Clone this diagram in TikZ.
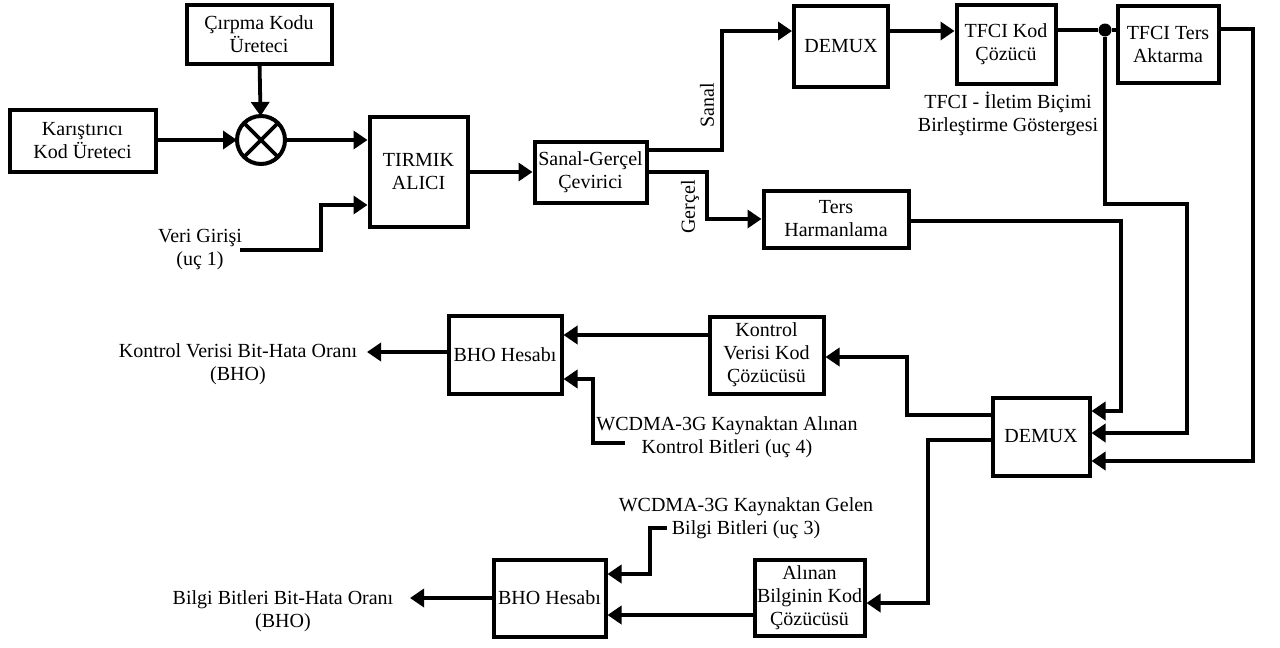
\documentclass[tikz,border=0pt]{standalone}
\usepackage{fontspec}
\setmainfont{Liberation Serif}
\usetikzlibrary{arrows.meta}
\begin{document}
\begin{tikzpicture}[x=1pt,y=-1pt,
  every node/.style={font=\fontsize{20}{23}\selectfont, align=center},
  blk/.style={draw, line width=4pt, inner sep=1pt},
  wire/.style={line width=3.8pt},
  arr/.style={wire, -{Triangle[length=14pt,width=18pt]}},
  lbl/.style={inner sep=0pt},
]
\useasboundingbox (0,0) rectangle (1280,648);

% --- blocks ---
\node[blk, minimum width=145, minimum height=59] (cirpma) at (259,34) {Çırpma Kodu\\Üreteci};
\node[blk, minimum width=146, minimum height=62] (karis) at (82.5,140.5) {Karıştırıcı\\Kod Üreteci};
\node[draw, line width=4pt, circle, minimum size=48, outer sep=0pt] (mix) at (261,140) {};
\draw[wire] (mix.north west) -- (mix.south east) (mix.north east) -- (mix.south west);
\node[blk, minimum width=98, minimum height=110] (tirmik) at (418.5,172) {TIRMIK\\ALICI};
\node[blk, minimum width=112, minimum height=61] (sg) at (590.5,172) {Sanal-Gerçel\\Çevirici};
\node[blk, minimum width=94, minimum height=81] (demuxa) at (841,46) {DEMUX};
\node[blk, minimum width=99, minimum height=79] (tfcikod) at (1006,44) {TFCI Kod\\Çözücü};
\node[blk, minimum width=101, minimum height=77] (tfciters) at (1168,44) {TFCI Ters\\Aktarma};
\node[blk, minimum width=145, minimum height=57] (tersh) at (836,219) {Ters\\Harmanlama};
\node[blk, minimum width=114, minimum height=77] (kontrol) at (766.5,355) {Kontrol\\Verisi Kod\\Çözücüsü};
\node[blk, minimum width=113, minimum height=78] (bhoa) at (505,354.5) {BHO Hesabı};
\node[blk, minimum width=97, minimum height=78] (demuxb) at (1041,436.5) {DEMUX};
\node[blk, minimum width=110, minimum height=76] (alinan) at (809.5,597.5) {Alınan\\Bilginin Kod\\Çözücüsü};
\node[blk, minimum width=112, minimum height=77] (bhob) at (549.5,598) {BHO Hesabı};
\node[circle, fill, inner sep=0pt, minimum size=13pt] (dot) at (1105,30) {};

% --- labels ---
\node[lbl] (veri) at (200,250) {Veri Girişi\\(uç 1)};
\node[lbl, rotate=90] (sanallbl) at (707,105) {Sanal};
\node[lbl, rotate=90] (gercellbl) at (690,207) {Gerçel};
\node[lbl] (tfcitxt) at (1008,114) {TFCI - İletim Biçimi\\Birleştirme Göstergesi};
\node[lbl] (kvtxt) at (238,364) {Kontrol Verisi Bit-Hata Oranı\\(BHO)};
\node[lbl] (wtxta) at (727,437) {WCDMA-3G Kaynaktan Alınan\\Kontrol Bitleri (uç 4)};
\node[lbl] (wtxtb) at (746,518) {WCDMA-3G Kaynaktan Gelen\\Bilgi Bitleri (uç 3)};
\node[lbl] (bbtxt) at (283,611) {Bilgi Bitleri Bit-Hata Oranı\\(BHO)};

% --- free ends ---
\coordinate (vin) at (240,250);
\coordinate (kvout) at (367,352);
\coordinate (win4) at (625,443);
\coordinate (win3) at (667,528);
\coordinate (bbout) at (410,598);

% --- connectors ---
\draw[arr] (cirpma) -- (mix);
\draw[arr] (karis.east |- mix) -- (mix);
\draw[arr] (mix) -- (tirmik.west |- mix);
\draw[arr] (vin) -| (321,205) -- (tirmik.west |- 0,205);
\draw[arr] (tirmik) -- (sg);
\draw[arr] (sg.east |- 0,150) -| (722,31) -- (demuxa.west |- 0,31);
\draw[arr] (sg.east |- 0,172) -| (707,219) -- (tersh.west |- 0,219);
\draw[arr] (demuxa.east |- 0,31) -- (tfcikod.west |- 0,31);
\draw[wire] (tfcikod.east |- dot) -- (dot) -- (tfciters.west |- dot);
\draw[arr] (dot) |- (1187,204) |- (demuxb.east |- 0,433);
\draw[arr] (tersh.east |- 0,221) -| (1121,411) -- (demuxb.east |- 0,411);
\draw[arr] (tfciters.east |- 0,29) -| (1253,461) -- (demuxb.east |- 0,461);
\draw[arr] (demuxb.west |- 0,415) -| (907,357) -- (kontrol.east |- 0,357);
\draw[arr] (kontrol.west |- 0,335) -- (bhoa.east |- 0,335);
\draw[arr] (bhoa.west |- kvout) -- (kvout);
\draw[arr] (win4) -| (593,379) -- (bhoa.east |- 0,379);
\draw[arr] (demuxb.west |- 0,440) -| (928,603) -- (alinan.east |- 0,603);
\draw[arr] (alinan.west |- 0,615) -- (bhob.east |- 0,615);
\draw[arr] (win3) -| (650,574) -- (bhob.east |- 0,574);
\draw[arr] (bhob.west |- bbout) -- (bbout);
\end{tikzpicture}
\end{document}
